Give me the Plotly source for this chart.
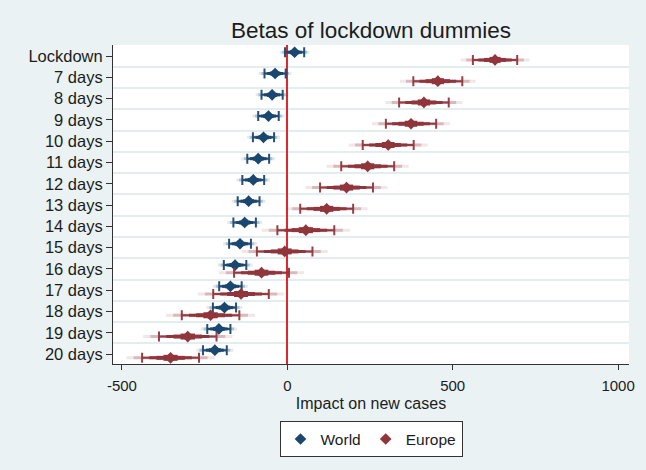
import plotly.graph_objects as go

categories = ["Lockdown", "7 days", "8 days", "9 days", "10 days", "11 days", "12 days",
              "13 days", "14 days", "15 days", "16 days", "17 days", "18 days", "19 days", "20 days"]
world_beta = [22, -37, -46, -57, -72, -88, -103, -117, -129, -143, -158, -172, -190, -207, -219]
world_ci95 = [29, 32, 32, 31, 32, 33, 33, 33, 34, 33, 34, 34, 35, 35, 36]
europe_beta = [628, 455, 413, 374, 305, 243, 179, 119, 56, -8, -78, -140, -232, -301, -353]
europe_ci95 = [67, 74, 75, 76, 77, 80, 80, 80, 86, 84, 83, 84, 87, 87, 86]
series_names = ["World", "Europe"]
xticks = [-500, 0, 500, 1000]

COLORS = {"World": (26, 71, 111), "Europe": (144, 53, 59)}
OFFSET = {"World": -0.18, "Europe": 0.18}

fig = go.Figure()

def rgba(c, a):
    return f"rgba({c[0]},{c[1]},{c[2]},{a})"

layers = [  # (fraction of 95% CI, thickness, alpha, cap width)
    (1.55, 3, 0.12, 0),
    (1.30, 3, 0.25, 0),
    (1.00, 2, 0.95, 5),
    (0.75, 3, 1.0, 0),
    (0.50, 4, 1.0, 0),
    (0.25, 6, 1.0, 0),
]

for name, beta, ci in [("World", world_beta, world_ci95), ("Europe", europe_beta, europe_ci95)]:
    c = COLORS[name]
    ys = [i + OFFSET[name] for i in range(len(categories))]
    for frac, th, a, w in layers:
        fig.add_trace(go.Scatter(
            x=beta, y=ys, mode="markers", marker=dict(size=0.1, color=rgba(c, 0)),
            error_x=dict(type="data", array=[h * frac for h in ci], symmetric=True,
                         thickness=th, width=w, color=rgba(c, a)),
            showlegend=False, hoverinfo="skip"))
    fig.add_trace(go.Scatter(
        x=beta, y=ys, mode="markers", name=name,
        marker=dict(symbol="diamond", size=9, color=rgba(c, 1)),
        error_y=dict(type="constant", value=0.28, thickness=1, width=0, color=rgba(c, 0.18)),
        showlegend=True))

fig.update_layout(
    width=646, height=470,
    margin=dict(l=113, r=17, t=45, b=106),
    paper_bgcolor="#eaf2f3", plot_bgcolor="white",
    font=dict(family="Liberation Sans, Arial, sans-serif", color="#1c1c1c"),
    title=dict(text="Betas of lockdown dummies", font=dict(size=22.5, color="#1c1c1c"),
               x=0.5, xref="paper", xanchor="center", y=1 - 30 / 470, yref="container",
               yanchor="middle"),
    showlegend=True,
    legend=dict(orientation="h", x=0.5, xanchor="center", y=-0.18, yanchor="top",
                bgcolor="white", bordercolor="#333333", borderwidth=1,
                font=dict(size=15.5, color="#1c1c1c")),
)

fig.update_xaxes(
    range=[-527, 1033], tickvals=xticks, ticktext=[str(v) for v in xticks],
    ticks="outside", ticklen=5, tickcolor="#333333", tickfont=dict(size=15),
    ticklabelstandoff=3,
    showline=True, linecolor="#333333", linewidth=1, showgrid=False,
    zeroline=True, zerolinecolor="#e3262b", zerolinewidth=1.5,
    title=dict(text="Impact on new cases", font=dict(size=16), standoff=4),
)
fig.update_yaxes(
    range=[len(categories) - 1 + 0.47, -0.52],
    tickvals=list(range(len(categories))), ticktext=categories,
    ticks="outside", ticklen=6, tickcolor="#333333", tickfont=dict(size=16.5),
    showline=True, linecolor="#333333", linewidth=1, showgrid=False, zeroline=False,
    minor=dict(tickvals=[i + 0.5 for i in range(len(categories) - 1)], showgrid=True,
               gridcolor="#e3edf0", gridwidth=2, ticks=""),
)

fig.write_html("out.html", config={"displayModeBar": False},
               post_script="document.body.style.margin='0';document.body.style.background='#eaf2f3';")
